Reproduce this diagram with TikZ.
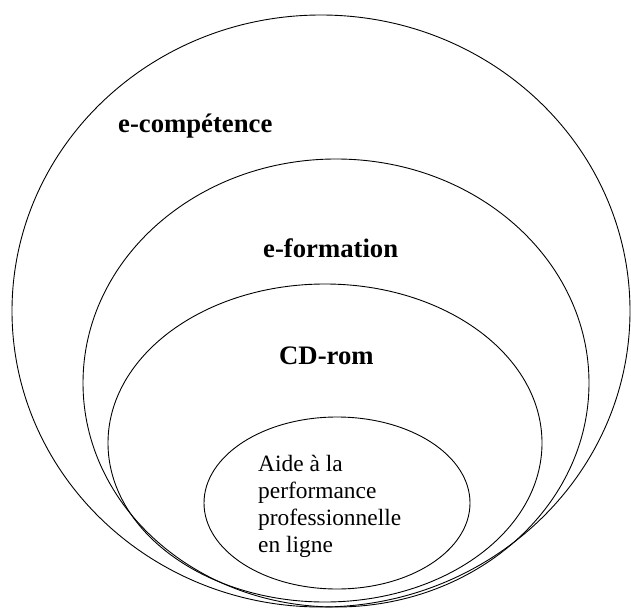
\documentclass[tikz,border=0pt]{standalone}
\usepackage{fontspec}
\setmainfont{Liberation Serif}
\usepackage{tikz}
\usetikzlibrary{positioning}

\begin{document}
\begin{tikzpicture}[x=1bp, y=-1bp,
    ring/.style={draw=black, line width=0.9pt},
    lvl/.style={font=\fontsize{26.7bp}{30bp}\selectfont\bfseries, inner sep=0pt, anchor=base west},
    core/.style={font=\fontsize{23.4bp}{27bp}\selectfont, inner sep=0pt, anchor=north west, align=left}]
\useasboundingbox (0,0) rectangle (631,609);
% nested ellipses, outer to inner
\foreach \cx/\cy/\rx/\ry in {321/311/309/296, 336/383/253/224, 325/443/217/159, 337/503/133/86} {
  \draw[ring] (\cx,\cy) ellipse [x radius=\rx, y radius=\ry];
}
\node[lvl] (ecomp) at (118,133) {e-compétence};
\node[lvl] (eform) at (263,257) {e-formation};
\node[lvl] (cdrom) at (279,364) {CD-rom};
\node[core] (aide) at (258,455) {Aide à la\\performance\\professionnelle\\en ligne};
\end{tikzpicture}
\end{document}
